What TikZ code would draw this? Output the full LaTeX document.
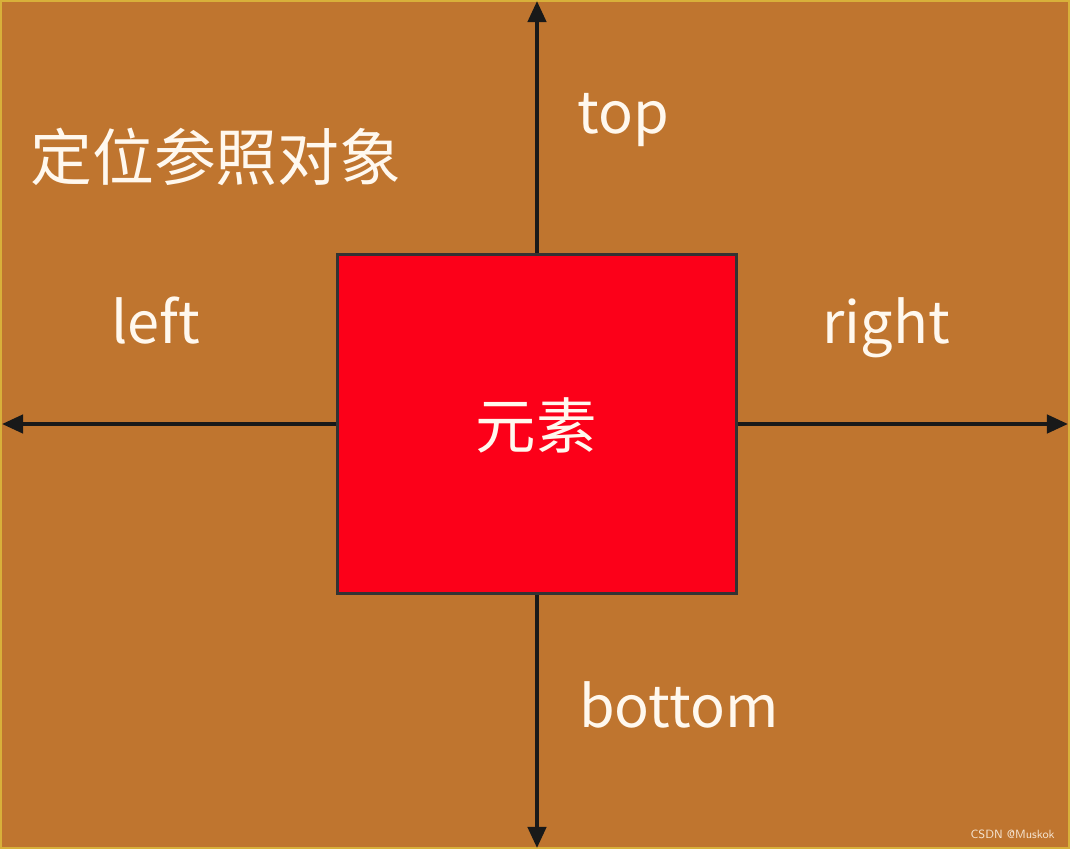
\documentclass[tikz,border=0pt]{standalone}
\usepackage{fontspec}
\setmainfont{Noto Sans CJK SC}
\usetikzlibrary{positioning,arrows.meta}
\definecolor{bgbrown}{HTML}{BF752F}
\definecolor{rimyellow}{HTML}{D8B03A}
\definecolor{elemred}{HTML}{FC0019}
\definecolor{textcream}{HTML}{FFF8EE}
\begin{document}
\begin{tikzpicture}[x=0.025cm, y=-0.025cm,
    boxnode/.style={rectangle, draw=black!80, line width=2.4pt, fill=elemred, minimum width=284pt, minimum height=241pt, inner sep=0pt},
    labelnode/.style={text=textcream, font=\fontsize{41}{41}\selectfont, inner sep=0pt},
    axis/.style={line width=2.7pt, draw=black!90, -{Triangle[length=15pt, width=13pt]}},]
    % background
    \useasboundingbox (0,0) rectangle (1070,849);
    \draw[fill=bgbrown, draw=rimyellow, line width=1.5pt] (1,1) rectangle (1069,848);
    % nodes
    \node[boxnode]      (elem)    at (537,424)     {};
    \node[labelnode, font=\fontsize{43}{43}\selectfont] (elemtxt) at (536,425) {元素};
    \node[labelnode, font=\fontsize{44}{44}\selectfont, anchor=west] (ref) at (30,157) {定位参照对象};
    \node[labelnode, anchor=base west] (top)    at (577,133) {top};
    \node[labelnode, anchor=base west] (left)   at (111,343) {left};
    \node[labelnode, anchor=base west] (right)  at (822,343) {right};
    \node[labelnode, anchor=base west] (bottom) at (579,727) {bottom};
    \node[text=textcream!85!bgbrown, font=\fontsize{8.5}{8.5}\selectfont\sffamily, anchor=east, inner sep=0pt] (mark) at (1055,834) {CSDN @Muskok};
    % ends
    \coordinate (topend)    at (537,1);
    \coordinate (bottomend) at (537,848);
    \coordinate (leftend)   at (2,424);
    \coordinate (rightend)  at (1068,424);
    % lines
    \draw[axis] (elem.north) -- (topend);
    \draw[axis] (elem.south) -- (bottomend);
    \draw[axis] (elem.west) -- (leftend);
    \draw[axis] (elem.east) -- (rightend);
\end{tikzpicture}
\end{document}
